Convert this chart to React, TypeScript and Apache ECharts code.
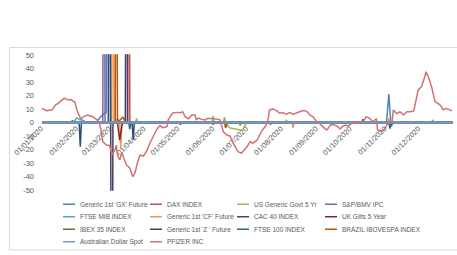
import React, { useEffect, useRef } from "react";
import * as echarts from "echarts";

const monthStarts = [
  "2020-01-01", "2020-02-01", "2020-03-01", "2020-04-01", "2020-05-01", "2020-06-01",
  "2020-07-01", "2020-08-01", "2020-09-01", "2020-10-01", "2020-11-01", "2020-12-01",
];

const gxDates = ["2020-01-01", "2020-02-18", "2020-02-21", "2020-02-24", "2020-02-26", "2020-02-27", "2020-02-28", "2020-02-29", "2020-11-02", "2020-11-04", "2020-11-06", "2020-11-08", "2020-12-31"];
const gxValues = [0, 0, 3, 6, 7, 7, 300, 0, 0, 21, -3, 0, 0];

const daxDates = ["2020-01-01", "2020-03-17", "2020-03-18", "2020-03-19", "2020-12-31"];
const daxValues = [0, 0, 300, 0, 0];

const us5yDates = ["2020-01-01", "2020-03-24", "2020-03-25", "2020-03-26", "2020-05-31", "2020-06-01", "2020-06-02", "2020-06-03", "2020-06-10", "2020-06-11", "2020-06-13", "2020-06-16", "2020-06-22", "2020-06-27", "2020-06-30", "2020-07-01", "2020-08-04", "2020-08-05", "2020-08-06", "2020-12-12", "2020-12-13", "2020-12-14", "2020-12-31"];
const us5yValues = [0, 0, 3, 0, 0, 5, -1, 0, 0, 4, -2, -4, -5, -6, -1, 0, 0, 2, 0, 0, 2, 0, 0];

const spDates = ["2020-01-01", "2020-02-24", "2020-02-25", "2020-02-26", "2020-12-31"];
const spValues = [0, 0, 300, 0, 0];

const mibDates = ["2020-01-01", "2020-01-29", "2020-02-01", "2020-02-04", "2020-02-07", "2020-02-09", "2020-12-31"];
const mibValues = [0, 0, 3.5, 2, 1.5, 0, 0];

const cfDates = ["2020-01-01", "2020-03-03", "2020-03-04", "2020-03-05", "2020-03-08", "2020-03-10", "2020-03-11", "2020-03-12", "2020-08-10", "2020-08-11", "2020-08-12", "2020-11-03", "2020-11-04", "2020-11-05", "2020-12-31"];
const cfValues = [0, 0, 300, 0, 3, 0, -19, 0, 0, -4, 0, 0, 3, 0, 0];

const cacDates = ["2020-01-01", "2020-02-03", "2020-02-04", "2020-02-05", "2020-02-29", "2020-03-01", "2020-03-02", "2020-03-21", "2020-03-22", "2020-03-23", "2020-10-11", "2020-10-12", "2020-10-13", "2020-12-31"];
const cacValues = [0, 0, -18, 0, 0, 300, 0, 0, -13, 0, 0, 2.5, 0, 0];

const giltsDates = ["2020-01-01", "2020-03-08", "2020-03-10", "2020-03-12", "2020-03-13", "2020-12-31"];
const giltsValues = [0, 0, -13, -2, 0, 0];

const ibexDates = ["2020-01-01", "2020-01-27", "2020-01-28", "2020-01-29", "2020-12-31"];
const ibexValues = [0, 0, 1.5, 0, 0];

const zDates = ["2020-01-01", "2020-03-02", "2020-03-03", "2020-03-04", "2020-03-15", "2020-03-16", "2020-03-17", "2020-12-31"];
const zValues = [0, 0, -300, 0, 0, 300, 0, 0];

const ftseDates = ["2020-01-01", "2020-03-18", "2020-03-19", "2020-03-20", "2020-11-04", "2020-11-05", "2020-11-06", "2020-12-31"];
const ftseValues = [0, 0, -5, 0, 0, -4.5, 0, 0];

const brazilDates = ["2020-01-01", "2020-03-06", "2020-03-07", "2020-03-08", "2020-03-13", "2020-03-15", "2020-05-02", "2020-05-03", "2020-05-05", "2020-05-30", "2020-06-01", "2020-06-03", "2020-06-11", "2020-06-12", "2020-06-14", "2020-06-24", "2020-06-25", "2020-06-26", "2020-07-21", "2020-07-22", "2020-07-23", "2020-12-31"];
const brazilValues = [0, 0, 300, 0, 4, 0, 0, -1.5, 0, 0, -1.5, 0, 0, -4, 0, 0, -2, 0, 0, -1.5, 0, 0];

const audDates = ["2020-01-01", "2020-12-31"];
const audValues = [0, 0];

const pfizerDates = [
  "2020-01-01", "2020-01-05", "2020-01-10", "2020-01-13", "2020-01-15", "2020-01-19", "2020-01-21", "2020-01-24", "2020-01-27", "2020-01-29", "2020-01-30",
  "2020-02-01", "2020-02-04", "2020-02-05", "2020-02-06", "2020-02-10", "2020-02-13", "2020-02-15", "2020-02-19", "2020-02-21", "2020-02-23", "2020-02-24", "2020-02-27",
  "2020-03-01", "2020-03-03", "2020-03-06", "2020-03-07", "2020-03-08", "2020-03-10", "2020-03-12", "2020-03-13", "2020-03-16", "2020-03-19", "2020-03-21", "2020-03-22", "2020-03-24", "2020-03-26", "2020-03-28", "2020-03-31",
  "2020-04-03", "2020-04-06", "2020-04-09", "2020-04-12", "2020-04-15", "2020-04-17", "2020-04-21", "2020-04-22", "2020-04-24", "2020-04-26", "2020-04-30",
  "2020-05-03", "2020-05-05", "2020-05-07", "2020-05-10", "2020-05-13", "2020-05-16", "2020-05-17", "2020-05-19", "2020-05-21", "2020-05-25", "2020-05-27", "2020-05-31",
  "2020-06-04", "2020-06-07", "2020-06-10", "2020-06-13", "2020-06-16", "2020-06-19", "2020-06-23", "2020-06-26", "2020-06-29",
  "2020-07-01", "2020-07-04", "2020-07-06", "2020-07-10", "2020-07-14", "2020-07-18", "2020-07-20", "2020-07-21", "2020-07-24", "2020-07-27", "2020-07-30",
  "2020-08-02", "2020-08-05", "2020-08-08", "2020-08-11", "2020-08-14", "2020-08-19", "2020-08-22", "2020-08-24", "2020-08-26", "2020-08-29",
  "2020-09-01", "2020-09-04", "2020-09-07", "2020-09-10", "2020-09-13", "2020-09-15", "2020-09-19", "2020-09-22", "2020-09-23", "2020-09-26", "2020-09-29",
  "2020-10-02", "2020-10-07", "2020-10-09", "2020-10-12", "2020-10-15", "2020-10-18", "2020-10-21", "2020-10-24", "2020-10-25", "2020-10-29",
  "2020-11-01", "2020-11-03", "2020-11-07", "2020-11-08", "2020-11-11", "2020-11-14", "2020-11-17", "2020-11-20", "2020-11-23", "2020-11-26", "2020-11-27", "2020-11-30",
  "2020-12-03", "2020-12-06", "2020-12-07", "2020-12-09", "2020-12-12", "2020-12-15", "2020-12-18", "2020-12-21", "2020-12-22", "2020-12-25", "2020-12-28", "2020-12-30",
];
const pfizerValues = [
  10.5, 8.7, 9.5, 13, 14, 16.7, 18, 16.7, 17, 15.5, 15.4,
  9.3, 3.3, 2.5, 4, 5.5, 4.8, 4.3, 1.9, -0.6, -8, -14, -16.7,
  -17, -24, -20, -16.7, -24, -27.8, -22, -25, -31.5, -33.7, -39, -40, -36, -29, -24, -25,
  -21, -15, -10, -5, -2, -4, -3, 1.9, 4.3, 7, 7.5,
  7.3, 8, 4.3, 2.6, 5.6, 5.6, 1.9, 3.3, 2.5, 1.9, 3, 3,
  2.5, 2, -6.8, -9.3, -10, -15.4, -21.6, -22.8, -20,
  -18, -14, -15.5, -13, -6.5, -2, 3, 9.3, 10, 9, 7,
  7.3, 6, 7.5, 6, 7, 8.7, 8.7, 7.5, 5.6, 4,
  0.6, -1, -3.6, -5.6, -1.9, -1.5, -2.5, -5, -3.5, -1.9, -2.5,
  -0.6, -0.6, 0.6, 0.6, 4.3, 3, 0.6, 3, -5.6, -6.8,
  -4, -0.5, 0.6, 9.3, 6.5, 8, 5.6, 8, 8, 8.5, 11.7, 24,
  26.5, 34, 37.6, 34, 26.5, 15.4, 14, 11.7, 9.3, 10.5, 9.3, 8.7,
];

const seriesNames = [
  "Generic 1st 'GX' Future", "DAX INDEX", "US Generic Govt 5 Yr", "S&P/BMV IPC",
  "FTSE MIB INDEX", "Generic 1st 'CF' Future", "CAC 40 INDEX", "UK Gilts 5 Year",
  "IBEX 35 INDEX", "Generic 1st 'Z ' Future", "FTSE 100 INDEX", "BRAZIL IBOVESPA INDEX",
  "Australian Dollar Spot", "PFIZER INC",
];
const seriesColors = [
  "#4F81BD", "#C0504D", "#9BBB59", "#8064A2", "#4BACC6", "#F79646", "#2C4D75",
  "#772C2A", "#5F7530", "#4D3B62", "#276A7C", "#B65708", "#729ACA", "#CD7371",
];
const seriesDates = [gxDates, daxDates, us5yDates, spDates, mibDates, cfDates, cacDates, giltsDates, ibexDates, zDates, ftseDates, brazilDates, audDates, pfizerDates];
const seriesValues = [gxValues, daxValues, us5yValues, spValues, mibValues, cfValues, cacValues, giltsValues, ibexValues, zValues, ftseValues, brazilValues, audValues, pfizerValues];

const Y_MIN = -50;
const Y_MAX = 50;
const GRID = { left: 42, right: 4, top: 55, bottom: 65 };
const H = 255;

const ts = (s: string) => new Date(s + "T00:00:00Z").getTime();
const pad = (n: number) => (n < 10 ? "0" + n : "" + n);
const fmt = (v: number) => {
  const d = new Date(v);
  return `${pad(d.getUTCDate())}/${pad(d.getUTCMonth() + 1)}/${d.getUTCFullYear()}`;
};

const FONT = "'Liberation Sans', Arial, sans-serif";

export default function App() {
  const ref = useRef<HTMLDivElement>(null);
  useEffect(() => {
    if (!ref.current) return;
    const chart = echarts.init(ref.current, undefined, { renderer: "svg" });
    const series = seriesNames.map((name, i) => ({
      name,
      type: "line",
      showSymbol: false,
      symbol: "none",
      clip: true,
      z: name === "PFIZER INC" ? 4 : name === "Australian Dollar Spot" ? 3 : 2,
      color: seriesColors[i],
      lineStyle: { width: name === "Australian Dollar Spot" ? 2.5 : 1.5, color: seriesColors[i] },
      data: seriesDates[i].map((d, k) => [ts(d), seriesValues[i][k]]),
    }));
    const cols = [
      { left: 63, idx: [0, 4, 8, 12] },
      { left: 150, idx: [1, 5, 9, 13] },
      { left: 237, idx: [2, 6, 10] },
      { left: 325, idx: [3, 7, 11] },
    ];
    const legends = cols.map((c) => ({
      orient: "vertical",
      left: c.left,
      top: 198,
      padding: 0,
      itemGap: 0,
      icon: "rect",
      itemWidth: 12,
      itemHeight: 1.5,
      selectedMode: false,
      textStyle: { fontSize: 6.5, color: "#595959", fontFamily: FONT, lineHeight: 12.5 },
      data: c.idx.map((i) => seriesNames[i]),
    }));
    // distance from the bottom of the plot to the zero value, so the date labels sit under the 0 line
    const plotH = H - GRID.top - GRID.bottom;
    const zeroOffset = -((0 - Y_MIN) / (Y_MAX - Y_MIN)) * plotH;
    chart.setOption({
      animation: false,
      backgroundColor: "#ffffff",
      grid: GRID,
      legend: legends,
      xAxis: {
        type: "value",
        min: ts("2020-01-01"),
        max: ts("2020-12-31"),
        offset: zeroOffset,
        axisLine: { show: true, onZero: false, lineStyle: { color: "#d9d9d9", width: 1 } },
        axisTick: { show: false },
        splitLine: { show: false },
        axisLabel: {
          customValues: monthStarts.map(ts),
          formatter: (v: number) => fmt(v),
          rotate: 45,
          margin: 5,
          fontSize: 7.5,
          color: "#595959",
          fontFamily: FONT,
        },
      },
      yAxis: {
        type: "value",
        min: Y_MIN,
        max: Y_MAX,
        interval: 10,
        axisLine: { show: false },
        axisTick: { show: false },
        splitLine: { show: false },
        axisLabel: { fontSize: 7.5, color: "#595959", fontFamily: FONT, margin: 8 },
      },
      graphic: [
        {
          type: "rect",
          silent: true,
          shape: { x: 9.5, y: 47.5, width: 460, height: 202.5 },
          style: { fill: "none", stroke: "#d9d9d9", lineWidth: 1 },
        },
      ],
      series,
    });
    return () => chart.dispose();
  }, []);
  return (
    <div
      ref={ref}
      style={{ position: "fixed", left: 0, top: 0, width: 457, height: 255, background: "#fff" }}
    />
  );
}
